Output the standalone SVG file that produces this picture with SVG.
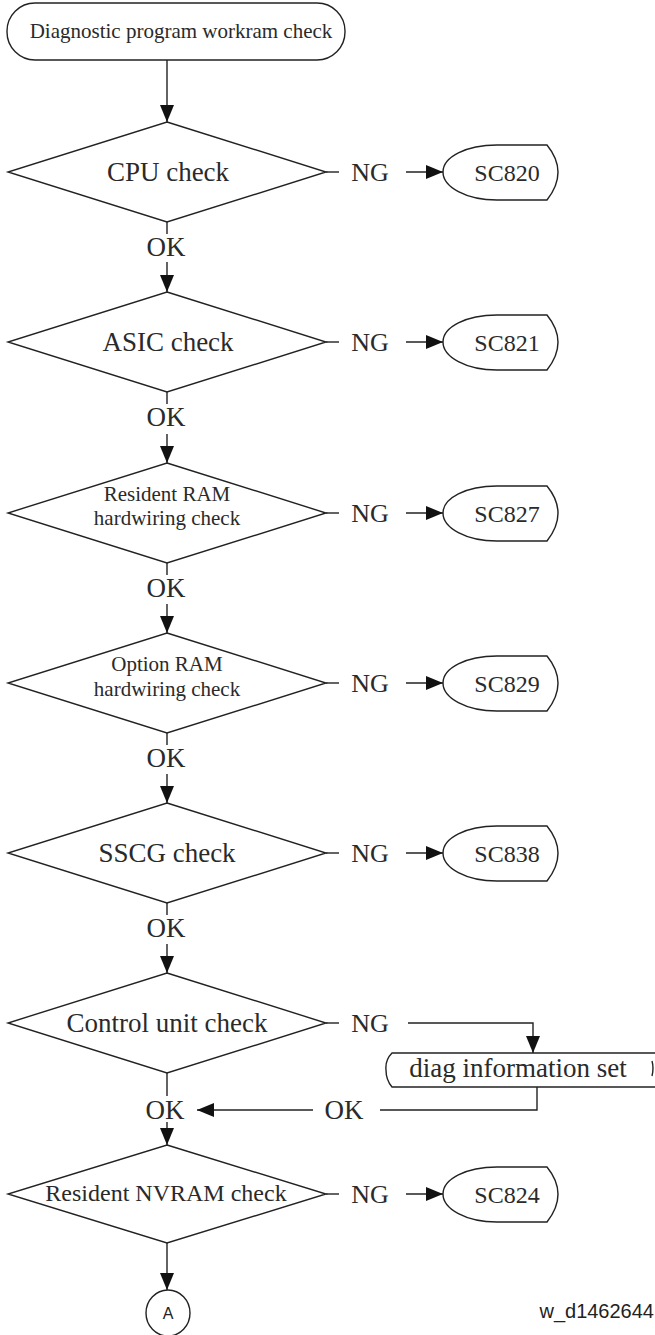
<svg xmlns="http://www.w3.org/2000/svg" width="655" height="1335" viewBox="0 0 655 1335">
<style>
.s{fill:none;stroke:#222;stroke-width:1.4}
.n{fill:#fff;stroke:#222;stroke-width:1.4}
.t{font-family:"Liberation Serif","Times New Roman",serif;fill:#2a2a2a;text-anchor:middle}
.f27{font-size:27px}.f26{font-size:26px}.f24{font-size:24px}.f21{font-size:21px}
</style>
<defs>
<marker id="ah" markerUnits="userSpaceOnUse" markerWidth="18" markerHeight="15" refX="17" refY="7" orient="auto"><path d="M0,0 L17,7 L0,14 Z" fill="#111"/></marker>
<path id="sc" d="M 497,-27 L 547,-27 Q 569,0 547,28 L 497,28 C 466,28 443,15 443,0 C 443,-15 466,-27 497,-27 Z"/>
</defs>
<rect width="655" height="1335" fill="#fff"/>

<g id="connectors">
<line class="s" x1="167" y1="60" x2="167" y2="122" marker-end="url(#ah)"/>
<line class="s" x1="167" y1="222" x2="167" y2="234"/>
<line class="s" x1="167" y1="262" x2="167" y2="292" marker-end="url(#ah)"/>
<line class="s" x1="167" y1="392" x2="167" y2="404"/>
<line class="s" x1="167" y1="434" x2="167" y2="463" marker-end="url(#ah)"/>
<line class="s" x1="167" y1="563" x2="167" y2="575"/>
<line class="s" x1="167" y1="604" x2="167" y2="633" marker-end="url(#ah)"/>
<line class="s" x1="167" y1="733" x2="167" y2="745"/>
<line class="s" x1="167" y1="774" x2="167" y2="803" marker-end="url(#ah)"/>
<line class="s" x1="167" y1="903" x2="167" y2="915"/>
<line class="s" x1="167" y1="944" x2="167" y2="973" marker-end="url(#ah)"/>
<line class="s" x1="167" y1="1073" x2="167" y2="1096"/>
<line class="s" x1="167" y1="1122" x2="167" y2="1145" marker-end="url(#ah)"/>
<line class="s" x1="167" y1="1243" x2="167" y2="1290" marker-end="url(#ah)"/>
<!-- NG branches -->
<line class="s" x1="326" y1="172" x2="339" y2="172"/>
<line class="s" x1="406" y1="172" x2="443" y2="172" marker-end="url(#ah)"/>
<line class="s" x1="326" y1="342" x2="339" y2="342"/>
<line class="s" x1="406" y1="342" x2="443" y2="342" marker-end="url(#ah)"/>
<line class="s" x1="326" y1="513" x2="339" y2="513"/>
<line class="s" x1="406" y1="513" x2="443" y2="513" marker-end="url(#ah)"/>
<line class="s" x1="326" y1="683" x2="339" y2="683"/>
<line class="s" x1="406" y1="683" x2="443" y2="683" marker-end="url(#ah)"/>
<line class="s" x1="326" y1="853" x2="339" y2="853"/>
<line class="s" x1="406" y1="853" x2="443" y2="853" marker-end="url(#ah)"/>
<line class="s" x1="326" y1="1023" x2="339" y2="1023"/>
<polyline class="s" points="408,1023 533,1023 533,1053" marker-end="url(#ah)"/>
<polyline class="s" points="537,1087 537,1110 380,1110"/>
<line class="s" x1="313" y1="1110" x2="197" y2="1110" marker-end="url(#ah)"/>
<line class="s" x1="326" y1="1194" x2="339" y2="1194"/>
<line class="s" x1="406" y1="1194" x2="443" y2="1194" marker-end="url(#ah)"/>
<!-- labels -->
<g class="t f26">
<text x="370" y="181">NG</text>
<text x="370" y="351">NG</text>
<text x="370" y="522">NG</text>
<text x="370" y="692">NG</text>
<text x="370" y="862">NG</text>
<text x="370" y="1032">NG</text>
<text x="370" y="1203">NG</text>
</g>
<g class="t f27">
<text x="166" y="256">OK</text>
<text x="166" y="426">OK</text>
<text x="166" y="597">OK</text>
<text x="166" y="767">OK</text>
<text x="166" y="937">OK</text>
<text x="165" y="1119">OK</text>
<text x="344" y="1119">OK</text>
</g>
</g>

<g id="start">
<rect class="n" x="7" y="3" width="338" height="57" rx="28" ry="28"/>
<text class="t f21" x="181" y="38">Diagnostic program workram check</text>
</g>

<g id="cpu">
<polygon class="n" points="167,122 326,172 167,222 8,172"/>
<text class="t f27" x="168" y="181">CPU check</text>
</g>
<g id="asic">
<polygon class="n" points="167,292 326,342 167,392 8,342"/>
<text class="t f27" x="168" y="351">ASIC check</text>
</g>
<g id="resram">
<polygon class="n" points="167,463 326,513 167,563 8,513"/>
<text class="t f21" x="167" y="501">Resident RAM</text>
<text class="t f21" x="167" y="525">hardwiring check</text>
</g>
<g id="optram">
<polygon class="n" points="167,633 326,683 167,733 8,683"/>
<text class="t f21" x="167" y="671">Option RAM</text>
<text class="t f21" x="167" y="696">hardwiring check</text>
</g>
<g id="sscg">
<polygon class="n" points="167,803 326,853 167,903 8,853"/>
<text class="t f27" x="167" y="862">SSCG check</text>
</g>
<g id="control">
<polygon class="n" points="167,973 326,1023 167,1073 8,1023"/>
<text class="t f27" x="167" y="1032">Control unit check</text>
</g>
<g id="nvram">
<polygon class="n" points="167,1145 326,1194 167,1243 8,1194"/>
<text class="t f24" x="166" y="1201">Resident NVRAM check</text>
</g>

<g id="sc820"><use href="#sc" class="n" y="172"/><text class="t f24" x="507" y="181">SC820</text></g>
<g id="sc821"><use href="#sc" class="n" y="342"/><text class="t f24" x="507" y="351">SC821</text></g>
<g id="sc827"><use href="#sc" class="n" y="513"/><text class="t f24" x="507" y="522">SC827</text></g>
<g id="sc829"><use href="#sc" class="n" y="683"/><text class="t f24" x="507" y="692">SC829</text></g>
<g id="sc838"><use href="#sc" class="n" y="853"/><text class="t f24" x="507" y="862">SC838</text></g>
<g id="sc824"><use href="#sc" class="n" y="1194"/><text class="t f24" x="507" y="1203">SC824</text></g>

<g id="diag">
<path class="n" d="M 656,1053 L 392,1053 Q 385,1060 386,1070 Q 386,1080 392,1087 L 656,1087"/>
<path class="s" d="M 652,1061 Q 654,1068 652,1076" stroke-width="1"/>
<text class="t f27" x="518" y="1077">diag information set</text>
</g>

<g id="connectorA">
<ellipse class="n" cx="168" cy="1313" rx="22" ry="23"/>
<text x="168" y="1319" style="font-family:'Liberation Sans',Arial,sans-serif;font-size:16px;fill:#222;text-anchor:middle">A</text>
</g>

<text x="654" y="1318" style="font-family:'Liberation Sans',Arial,sans-serif;font-size:20px;fill:#222;text-anchor:end">w_d1462644</text>
</svg>
